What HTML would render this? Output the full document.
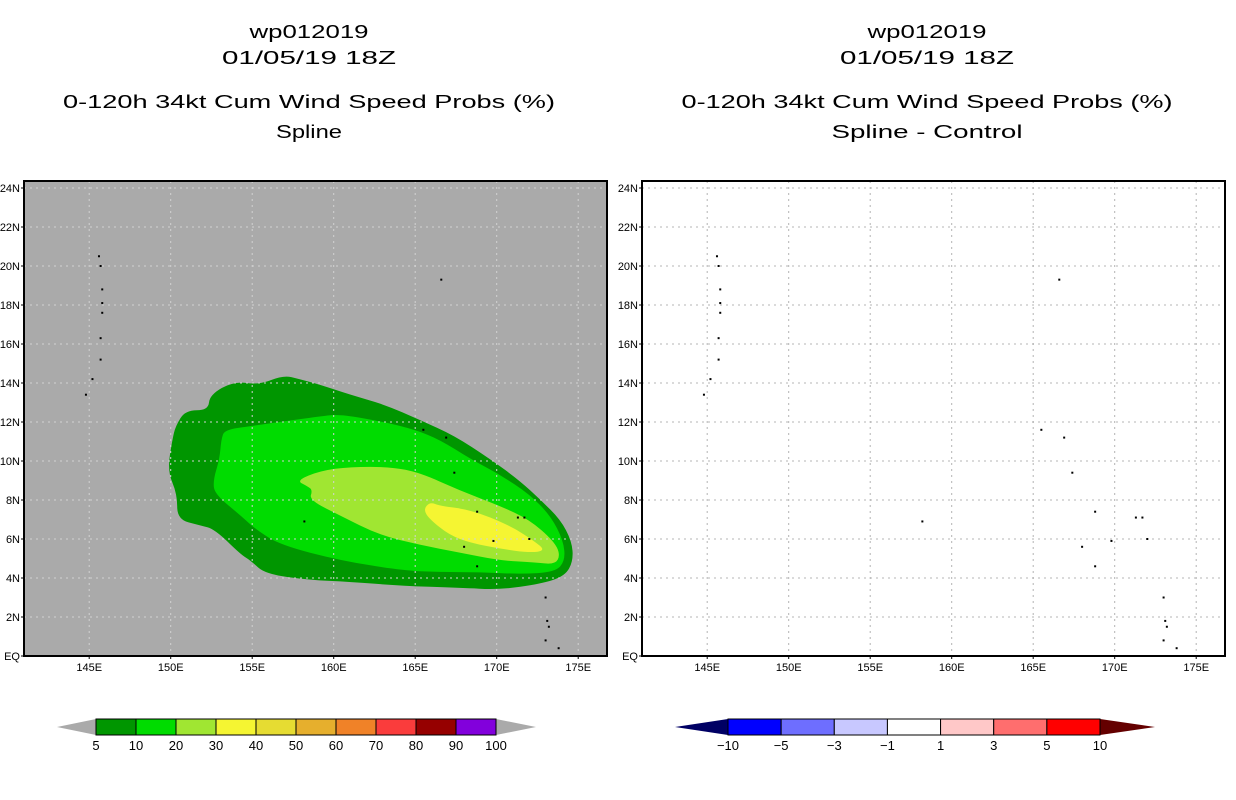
<!DOCTYPE html>
<html><head><meta charset="utf-8"><style>
html,body{margin:0;padding:0;background:#fff;}
svg{display:block;}
text{font-family:"Liberation Sans",sans-serif;}
</style></head><body>
<svg id="chart" width="1236" height="800" viewBox="0 0 1236 800" xmlns="http://www.w3.org/2000/svg">
<g id="titles" fill="#000" font-size="18" text-anchor="middle">
  <text x="309" y="38" textLength="119" lengthAdjust="spacingAndGlyphs">wp012019</text>
  <text x="309" y="64" textLength="174" lengthAdjust="spacingAndGlyphs">01/05/19 18Z</text>
  <text x="309" y="108" textLength="492" lengthAdjust="spacingAndGlyphs">0-120h 34kt Cum Wind Speed Probs (%)</text>
  <text x="309" y="138" textLength="66" lengthAdjust="spacingAndGlyphs">Spline</text>
  <text x="927" y="38" textLength="119" lengthAdjust="spacingAndGlyphs">wp012019</text>
  <text x="927" y="64" textLength="174" lengthAdjust="spacingAndGlyphs">01/05/19 18Z</text>
  <text x="927" y="108" textLength="491" lengthAdjust="spacingAndGlyphs">0-120h 34kt Cum Wind Speed Probs (%)</text>
  <text x="927" y="138" textLength="191" lengthAdjust="spacingAndGlyphs">Spline - Control</text>
</g>
<g id="left"></g>
<g id="right"></g>
<g id="cbl"></g>
<g id="cbr"></g>
</svg>
<script>
const lonTicks = [145,150,155,160,165,170,175];
const latTicks = [0,2,4,6,8,10,12,14,16,18,20,22,24];
const latLabels = ["EQ","2N","4N","6N","8N","10N","12N","14N","16N","18N","20N","22N","24N"];
const contour5 = [[156.9,14.4],[155.4,13.9],[153.9,14.1],[152.4,13.4],[152.3,12.6],[150.9,12.6],[150.3,11.8],[150.1,11.1],[149.8,9.5],[150.4,8.3],[150.4,7.0],[151.8,6.7],[152.7,6.5],[154.3,5.2],[154.9,4.9],[155.8,4.2],[158.5,3.9],[161.0,3.8],[164.1,3.6],[167.7,3.5],[170.2,3.4],[172.7,3.7],[174.2,4.1],[174.7,4.9],[174.6,5.9],[173.9,7.0],[172.7,8.0],[171.4,9.0],[169.6,10.1],[167.4,11.3],[165.3,12.1],[163.1,12.9],[161.0,13.4],[159.2,13.9],[157.9,14.2]];
const contour10 = [[153.3,11.6],[155.0,11.8],[159.2,12.3],[160.4,12.4],[163.1,12.0],[165.0,11.6],[166.5,11.1],[168.4,10.1],[170.2,9.3],[172.0,8.3],[173.3,7.2],[174.1,5.9],[174.2,4.9],[173.6,4.3],[171.4,4.2],[169.0,4.3],[166.5,4.3],[164.1,4.4],[160.4,4.9],[156.7,5.7],[155.2,6.5],[154.3,7.2],[152.7,8.3],[152.6,9.0],[153.0,10.1],[153.1,11.1]];
const contour20 = [[157.7,9.0],[159.2,9.5],[161.0,9.7],[163.5,9.7],[165.3,9.4],[167.7,8.5],[170.2,7.7],[172.0,7.0],[173.5,5.9],[173.9,5.2],[173.6,4.7],[172.3,4.8],[170.2,4.9],[167.7,5.3],[165.3,5.7],[162.8,6.2],[160.4,7.2],[158.5,8.0],[158.7,8.5],[158.4,8.7]];
const contour30 = [[165.5,7.5],[165.9,7.9],[166.5,7.7],[168.4,7.5],[170.8,6.7],[172.3,5.9],[173.0,5.4],[172.0,5.3],[170.2,5.5],[168.4,5.8],[167.1,6.2],[165.9,7.0]];
const islands = [[145.6,20.5],[145.7,20.0],[145.8,18.8],[145.8,18.1],[145.8,17.6],[145.7,16.3],[145.7,15.2],[145.2,14.2],[144.8,13.4],[166.6,19.3],[158.2,6.9],[171.7,7.1],[171.3,7.1],[168.8,7.4],[169.8,5.9],[172.0,6.0],[168.0,5.6],[168.8,4.6],[167.4,9.4],[166.9,11.2],[165.5,11.6],[173.0,3.0],[173.1,1.8],[173.2,1.5],[173.0,0.8],[173.8,0.4]];
const leftLevels = ["5","10","20","30","40","50","60","70","80","90","100"];
const leftColors = ["#009600","#00dc00","#a0e632","#f5f532","#e6dc32","#e6af2d","#f08228","#fa3c3c","#960000","#8200dc"];
const rightLevels = ["-10","-5","-3","-1","1","3","5","10"];
const rightColors = ["#0000ff","#6e6eff","#c8c8ff","#ffffff","#ffc8c8","#ff6e6e","#ff0000"];

const NS="http://www.w3.org/2000/svg";
const LON0=141, LAT0=0, PX=16.3, PY=19.5;
function mk(tag,attrs,parent){const e=document.createElementNS(NS,tag);for(const k in attrs)e.setAttribute(k,attrs[k]);parent.appendChild(e);return e;}
function smoothPath(pts){
  const n=pts.length;let d='';
  for(let i=0;i<n;i++){
    const a=pts[i],b=pts[(i+1)%n];
    const m=[(a[0]+b[0])/2,(a[1]+b[1])/2];
    if(i===0){const z=pts[n-1];d+='M'+((z[0]+a[0])/2).toFixed(1)+','+((z[1]+a[1])/2).toFixed(1);}
    d+=' Q'+a[0].toFixed(1)+','+a[1].toFixed(1)+' '+m[0].toFixed(1)+','+m[1].toFixed(1);
  }
  return d+'Z';
}
function drawPanel(g,ox,bg,gridColor,filled){
  const x0=ox, x1=ox+583, y0=181, y1=656;
  const xs=lon=>ox+(lon-LON0)*PX;
  const ys=lat=>656-(lat-LAT0)*PY;
  const bgr=mk('rect',{x:x0,y:y0,width:x1-x0,height:y1-y0,fill:bg},g);
  
  
  if(filled){
    const sets=[[contour5,leftColors[0],'contour-5pct'],[contour10,leftColors[1],'contour-10pct'],[contour20,leftColors[2],'contour-20pct'],[contour30,leftColors[3],'contour-30pct']];
    sets.forEach(s=>{
      const p=mk('path',{d:smoothPath(s[0].map(d=>[xs(d[0]),ys(d[1])])),fill:s[1]},g);
      
      
    });
  }
  lonTicks.forEach(l=>{
    const ln=mk('line',{x1:xs(l),x2:xs(l),y1:y0,y2:y1,stroke:gridColor,'stroke-width':1,'stroke-dasharray':'2,4'},g);
    
    
    const t=mk('text',{x:xs(l),y:671,'font-size':11,'text-anchor':'middle',fill:'#000'},g);
    t.textContent=l+'E';
    
    
    mk('line',{x1:xs(l),x2:xs(l),y1:y1,y2:y1+3,stroke:'#000'},g);
  });
  latTicks.forEach((l,i)=>{
    if(l>0){
      const ln=mk('line',{x1:x0,x2:x1,y1:ys(l),y2:ys(l),stroke:gridColor,'stroke-width':1,'stroke-dasharray':'2,4'},g);
      
      
    }
    mk('line',{x1:x0-3,x2:x0,y1:ys(l),y2:ys(l),stroke:'#000'},g);
    const t=mk('text',{x:x0-4,y:ys(l)+4,'font-size':11,'text-anchor':'end',fill:'#000'},g);
    t.textContent=latLabels[i];
    
    
  });
  islands.forEach(d=>{
    const c=mk('rect',{x:xs(d[0])-1,y:ys(d[1])-1,width:2,height:2,fill:'#000'},g);
    
    
  });
  const fr=mk('rect',{x:x0,y:y0,width:x1-x0,height:y1-y0,fill:'none',stroke:'#000','stroke-width':2},g);
  
  
}
drawPanel(document.getElementById('left'),24,'#aaaaaa','#d2d2d2',true);
drawPanel(document.getElementById('right'),642,'#ffffff','#b4b4b4',false);

function drawBar(g,bx0,bx1,tipL,tipR,colors,levels,leftTip,rightTip){
  const y0=719,y1=735,ym=727;
  const w=(bx1-bx0)/colors.length;
  const tl=mk('polygon',{points:`${tipL},${ym} ${bx0},${y0} ${bx0},${y1}`,fill:leftTip},g);
  
  
  const tr=mk('polygon',{points:`${tipR},${ym} ${bx1},${y0} ${bx1},${y1}`,fill:rightTip},g);
  
  
  colors.forEach((c,i)=>{
    const r=mk('rect',{x:bx0+i*w,y:y0,width:w,height:y1-y0,fill:c,stroke:'#000','stroke-width':1},g);
    
    
  });
  levels.forEach((l,i)=>{
    const t=mk('text',{x:bx0+i*w,y:750,'font-size':13,'text-anchor':'middle',fill:'#000'},g);
    t.textContent=l.replace('-','\u2212');
    
    
  });
}
drawBar(document.getElementById('cbl'),96,496,57,536,leftColors,leftLevels,'#aaaaaa','#aaaaaa');
drawBar(document.getElementById('cbr'),728,1100,675,1155,rightColors,rightLevels,'#000064','#640000');
</script>
</body></html>
